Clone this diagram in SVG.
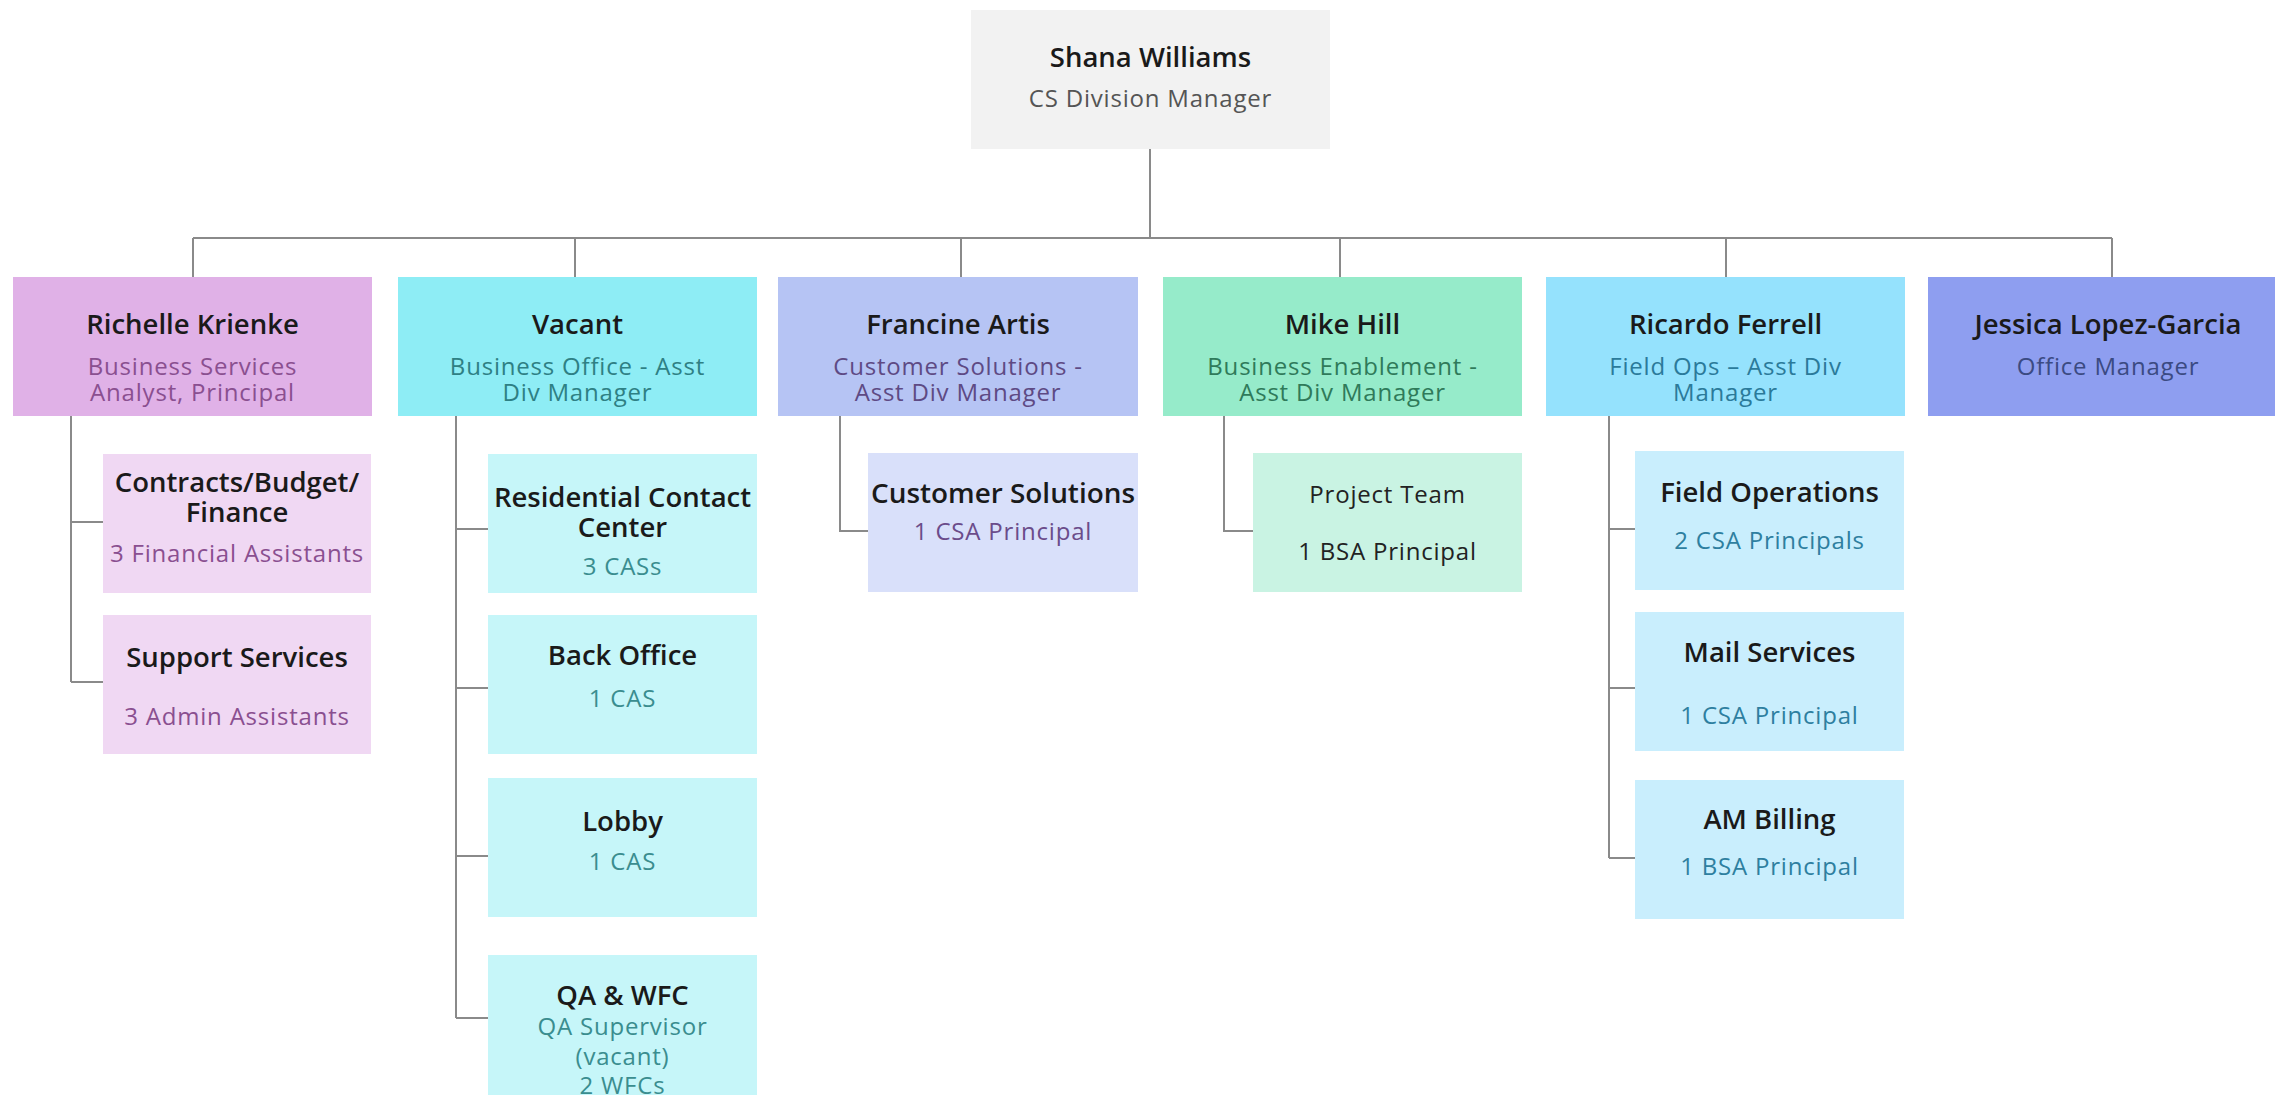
<svg xmlns="http://www.w3.org/2000/svg" width="2275" height="1095" viewBox="0 0 2275 1095">
<style>
.t{font-family:"Open Sans","Liberation Sans",sans-serif;font-weight:600;font-size:27.5px;fill:#1a1a1a;text-anchor:middle}
.s{font-family:"Open Sans","Liberation Sans",sans-serif;font-size:24px;letter-spacing:0.8px;text-anchor:middle}
.c{fill:none;stroke:#8a8a8a;stroke-width:2}
</style>
<rect width="2275" height="1095" fill="#ffffff"/>
<g id="connectors" class="c">
<path d="M1150 149V238M193 238H2112M193 238V277M575 238V277M961 238V277M1340 238V277M1726 238V277M2112 238V277"/>
<path d="M71 416V682M71 522H103M71 682H103"/>
<path d="M456 416V1018M456 529H488M456 688H488M456 856H488M456 1018H488"/>
<path d="M840 416V531H868"/>
<path d="M1224 416V531H1253"/>
<path d="M1609 416V858M1609 529H1635M1609 688H1635M1609 858H1635"/>
</g>
<g id="shana">
<rect x="971" y="10" width="359" height="139" fill="#f2f2f2"/>
<text class="t" x="1150.5" y="67">Shana Williams</text>
<text class="s" x="1150.5" y="107" fill="#555555">CS Division Manager</text>
</g>
<g id="richelle">
<rect x="13" y="277" width="359" height="139" fill="#e0b1e7"/>
<text class="t" x="192.5" y="334">Richelle Krienke</text>
<text class="s" x="192.5" y="375" fill="#8a4f90">Business Services</text>
<text class="s" x="192.5" y="401" fill="#8a4f90">Analyst, Principal</text>
</g>
<g id="vacant">
<rect x="398" y="277" width="359" height="139" fill="#8eedf5"/>
<text class="t" x="577.5" y="334">Vacant</text>
<text class="s" x="577.5" y="375" fill="#2e8084">Business Office - Asst</text>
<text class="s" x="577.5" y="401" fill="#2e8084">Div Manager</text>
</g>
<g id="francine">
<rect x="778" y="277" width="360" height="139" fill="#b6c4f4"/>
<text class="t" x="958" y="334">Francine Artis</text>
<text class="s" x="958" y="375" fill="#5e4a84">Customer Solutions -</text>
<text class="s" x="958" y="401" fill="#5e4a84">Asst Div Manager</text>
</g>
<g id="mike">
<rect x="1163" y="277" width="359" height="139" fill="#96ebca"/>
<text class="t" x="1342.5" y="334">Mike Hill</text>
<text class="s" x="1342.5" y="375" fill="#2f7a5a">Business Enablement -</text>
<text class="s" x="1342.5" y="401" fill="#2f7a5a">Asst Div Manager</text>
</g>
<g id="ricardo">
<rect x="1546" y="277" width="359" height="139" fill="#95e2fd"/>
<text class="t" x="1725.5" y="334">Ricardo Ferrell</text>
<text class="s" x="1725.5" y="375" fill="#2b7a9a">Field Ops – Asst Div</text>
<text class="s" x="1725.5" y="401" fill="#2b7a9a">Manager</text>
</g>
<g id="jessica">
<rect x="1928" y="277" width="359" height="139" fill="#8e9ef0"/>
<text class="t" x="2108" y="334">Jessica Lopez-Garcia</text>
<text class="s" x="2108" y="375" fill="#3b4a82">Office Manager</text>
</g>
<g id="contracts">
<rect x="103" y="454" width="268" height="139" fill="#f0d8f3"/>
<text class="t" x="237" y="492">Contracts/Budget/</text>
<text class="t" x="237" y="522">Finance</text>
<text class="s" x="237" y="562" fill="#8a4f90">3 Financial Assistants</text>
</g>
<g id="support">
<rect x="103" y="615" width="268" height="139" fill="#f0d8f3"/>
<text class="t" x="237" y="667">Support Services</text>
<text class="s" x="237" y="725" fill="#8a4f90">3 Admin Assistants</text>
</g>
<g id="residential">
<rect x="488" y="454" width="269" height="139" fill="#c6f6f9"/>
<text class="t" x="622.5" y="507">Residential Contact</text>
<text class="t" x="622.5" y="537">Center</text>
<text class="s" x="622.5" y="575" fill="#3a8d8f">3 CASs</text>
</g>
<g id="backoffice">
<rect x="488" y="615" width="269" height="139" fill="#c6f6f9"/>
<text class="t" x="622.5" y="665">Back Office</text>
<text class="s" x="622.5" y="707" fill="#3a8d8f">1 CAS</text>
</g>
<g id="lobby">
<rect x="488" y="778" width="269" height="139" fill="#c6f6f9"/>
<text class="t" x="622.5" y="831">Lobby</text>
<text class="s" x="622.5" y="870" fill="#3a8d8f">1 CAS</text>
</g>
<g id="qawfc">
<rect x="488" y="955" width="269" height="150" fill="#c6f6f9"/>
<text class="t" x="622.5" y="1005">QA &amp; WFC</text>
<text class="s" x="622.5" y="1035" fill="#3a8d8f">QA Supervisor</text>
<text class="s" x="622.5" y="1065" fill="#3a8d8f">(vacant)</text>
<text class="s" x="622.5" y="1094" fill="#3a8d8f">2 WFCs</text>
</g>
<g id="custsol">
<rect x="868" y="453" width="270" height="139" fill="#d9e0fa"/>
<text class="t" x="1003" y="503" textLength="264" lengthAdjust="spacingAndGlyphs">Customer Solutions</text>
<text class="s" x="1003" y="540" fill="#6b4c8a">1 CSA Principal</text>
</g>
<g id="project">
<rect x="1253" y="453" width="269" height="139" fill="#c9f3e3"/>
<text class="s" x="1387.5" y="503" fill="#222222">Project Team</text>
<text class="s" x="1387.5" y="560" fill="#222222">1 BSA Principal</text>
</g>
<g id="fieldops">
<rect x="1635" y="451" width="269" height="139" fill="#c9eefd"/>
<text class="t" x="1769.5" y="502">Field Operations</text>
<text class="s" x="1769.5" y="549" fill="#2e7fa0">2 CSA Principals</text>
</g>
<g id="mail">
<rect x="1635" y="612" width="269" height="139" fill="#c9eefd"/>
<text class="t" x="1769.5" y="662">Mail Services</text>
<text class="s" x="1769.5" y="724" fill="#2e7fa0">1 CSA Principal</text>
</g>
<g id="ambilling">
<rect x="1635" y="780" width="269" height="139" fill="#c9eefd"/>
<text class="t" x="1769.5" y="829">AM Billing</text>
<text class="s" x="1769.5" y="875" fill="#2e7fa0">1 BSA Principal</text>
</g>
</svg>
